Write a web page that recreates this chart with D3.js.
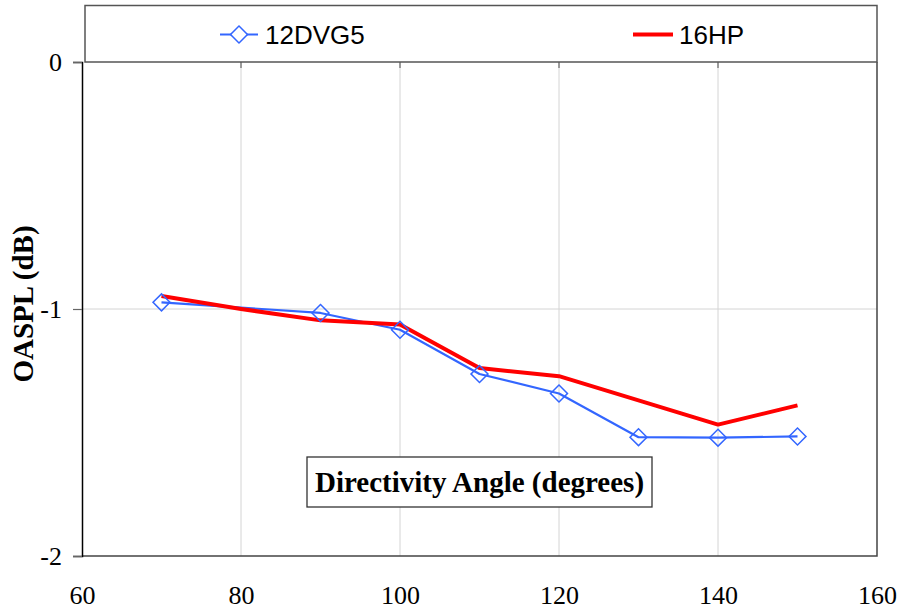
<!DOCTYPE html>
<html>
<head>
<meta charset="utf-8">
<script src="https://cdn.jsdelivr.net/npm/d3@7"></script>
<style>
  html, body { margin: 0; padding: 0; background: #fff; }
  svg { display: block; }
</style>
</head>
<body>
<svg id="chart" width="899" height="610"></svg>
<script>
// ---- Data ----
const anglesBlue = [70, 90, 100, 110, 120, 130, 140, 150];
const valuesBlue = [-0.973, -1.016, -1.084, -1.263, -1.342, -1.519, -1.521, -1.516];
const anglesRed = [70, 80, 90, 100, 110, 120, 140, 150];
const valuesRed = [-0.947, -1.0, -1.046, -1.063, -1.239, -1.272, -1.468, -1.39];
const seriesNames = ["12DVG5", "16HP"];
const xTicks = [60, 80, 100, 120, 140, 160];
const yTicks = [0, -1, -2];
const xTitle = "Directivity Angle (degrees)";
const yTitle = "OASPL (dB)";

const svg = d3.select("#chart");
const L = 82, R = 877, T = 62, B = 556;
const x = d3.scaleLinear().domain([60, 160]).range([L, R]);
const y = d3.scaleLinear().domain([0, -2]).range([T, B]);
const blue = "#3366ff", red = "#ff0000";
const serif = "'Liberation Serif','Times New Roman',serif";

// gridlines
svg.append("g").selectAll("line.vg").data(xTicks.filter(t => t > 60 && t < 160)).join("line")
  .attr("x1", d => x(d)).attr("x2", d => x(d)).attr("y1", T).attr("y2", B)
  .attr("stroke", "#d4d4d4").attr("stroke-width", 1);
svg.append("g").selectAll("line.hg").data(yTicks.filter(t => t < 0 && t > -2)).join("line")
  .attr("x1", L).attr("x2", R).attr("y1", d => y(d)).attr("y2", d => y(d))
  .attr("stroke", "#d4d4d4").attr("stroke-width", 1);

// small ticks at top
svg.append("g").selectAll("line.tt").data(xTicks.filter(t => t > 60 && t < 160)).join("line")
  .attr("x1", d => x(d)).attr("x2", d => x(d)).attr("y1", T).attr("y2", T + 6)
  .attr("stroke", "#666").attr("stroke-width", 1.2);

// plot border right & bottom
svg.append("path")
  .attr("d", `M${R},${T}V${B}H${L}`)
  .attr("fill", "none").attr("stroke", "#444").attr("stroke-width", 1.5);

// Y axis
const yAxis = d3.axisLeft(y).tickValues(yTicks).tickSize(9).tickPadding(11).tickFormat(d => String(d));
const gy = svg.append("g").attr("transform", `translate(${L},0)`).call(yAxis)
  .attr("font-family", serif).attr("font-size", 26);
gy.select(".domain").attr("stroke", "#000").attr("stroke-width", 1.5);
gy.selectAll(".tick line").attr("stroke", "#666").attr("stroke-width", 1.2);
gy.selectAll(".tick text").attr("fill", "#000");

// X axis (labels only)
const xAxis = d3.axisBottom(x).tickValues(xTicks).tickSize(0).tickPadding(30).tickFormat(d => String(d));
const gx = svg.append("g").attr("transform", `translate(0,${B})`).call(xAxis)
  .attr("font-family", serif).attr("font-size", 26);
gx.select(".domain").remove();
gx.selectAll(".tick text").attr("fill", "#000");

// Y title
svg.append("text")
  .attr("transform", `translate(33,${304}) rotate(-90)`)
  .attr("text-anchor", "middle")
  .attr("font-family", serif)
  .attr("font-weight", "bold").attr("font-size", 29).attr("fill", "#000")
  .text(yTitle);

// lines
const line = d3.line().x(d => x(d[0])).y(d => y(d[1]));
const blueData = anglesBlue.map((a, i) => [a, valuesBlue[i]]);
const redData = anglesRed.map((a, i) => [a, valuesRed[i]]);

svg.append("path").datum(blueData).attr("d", line)
  .attr("fill", "none").attr("stroke", blue).attr("stroke-width", 2.2).attr("stroke-linejoin", "round");
svg.append("path").datum(redData).attr("d", line)
  .attr("fill", "none").attr("stroke", red).attr("stroke-width", 4).attr("stroke-linejoin", "round");

const diamond = d3.symbol().type(d3.symbolSquare).size(144);
svg.append("g").selectAll("path").data(blueData).join("path")
  .attr("d", diamond)
  .attr("transform", d => `translate(${x(d[0])},${y(d[1])}) rotate(45)`)
  .attr("fill", "none").attr("stroke", blue).attr("stroke-width", 1.5);

// X title box
const bx = 307, by = 457, bw = 345, bh = 50;
svg.append("rect").attr("x", bx).attr("y", by).attr("width", bw).attr("height", bh)
  .attr("fill", "#fff").attr("stroke", "#333").attr("stroke-width", 1.3);
svg.append("text")
  .attr("x", bx + bw / 2).attr("y", by + 35)
  .attr("text-anchor", "middle")
  .attr("font-family", serif)
  .attr("font-weight", "bold").attr("font-size", 29).attr("fill", "#000")
  .text(xTitle);

// Legend box
svg.append("rect").attr("x", 85).attr("y", 5.5).attr("width", R - 85).attr("height", T - 5.5)
  .attr("fill", "#fff").attr("stroke", "#555").attr("stroke-width", 1.5);
const ly = 34.5;
// blue
svg.append("line").attr("x1", 220).attr("x2", 258).attr("y1", ly).attr("y2", ly)
  .attr("stroke", blue).attr("stroke-width", 2.2);
svg.append("path").attr("d", diamond).attr("transform", `translate(239,${ly}) rotate(45)`)
  .attr("fill", "#fff").attr("stroke", blue).attr("stroke-width", 1.5);
svg.append("text").attr("x", 265).attr("y", ly + 9.5)
  .attr("font-family", "'Liberation Sans',Arial,sans-serif").attr("font-size", 26).attr("fill", "#000")
  .text(seriesNames[0]);
// red
svg.append("line").attr("x1", 633).attr("x2", 673).attr("y1", ly).attr("y2", ly)
  .attr("stroke", red).attr("stroke-width", 4);
svg.append("text").attr("x", 679).attr("y", ly + 9.5)
  .attr("font-family", "'Liberation Sans',Arial,sans-serif").attr("font-size", 26).attr("fill", "#000")
  .text(seriesNames[1]);
</script>
</body>
</html>
